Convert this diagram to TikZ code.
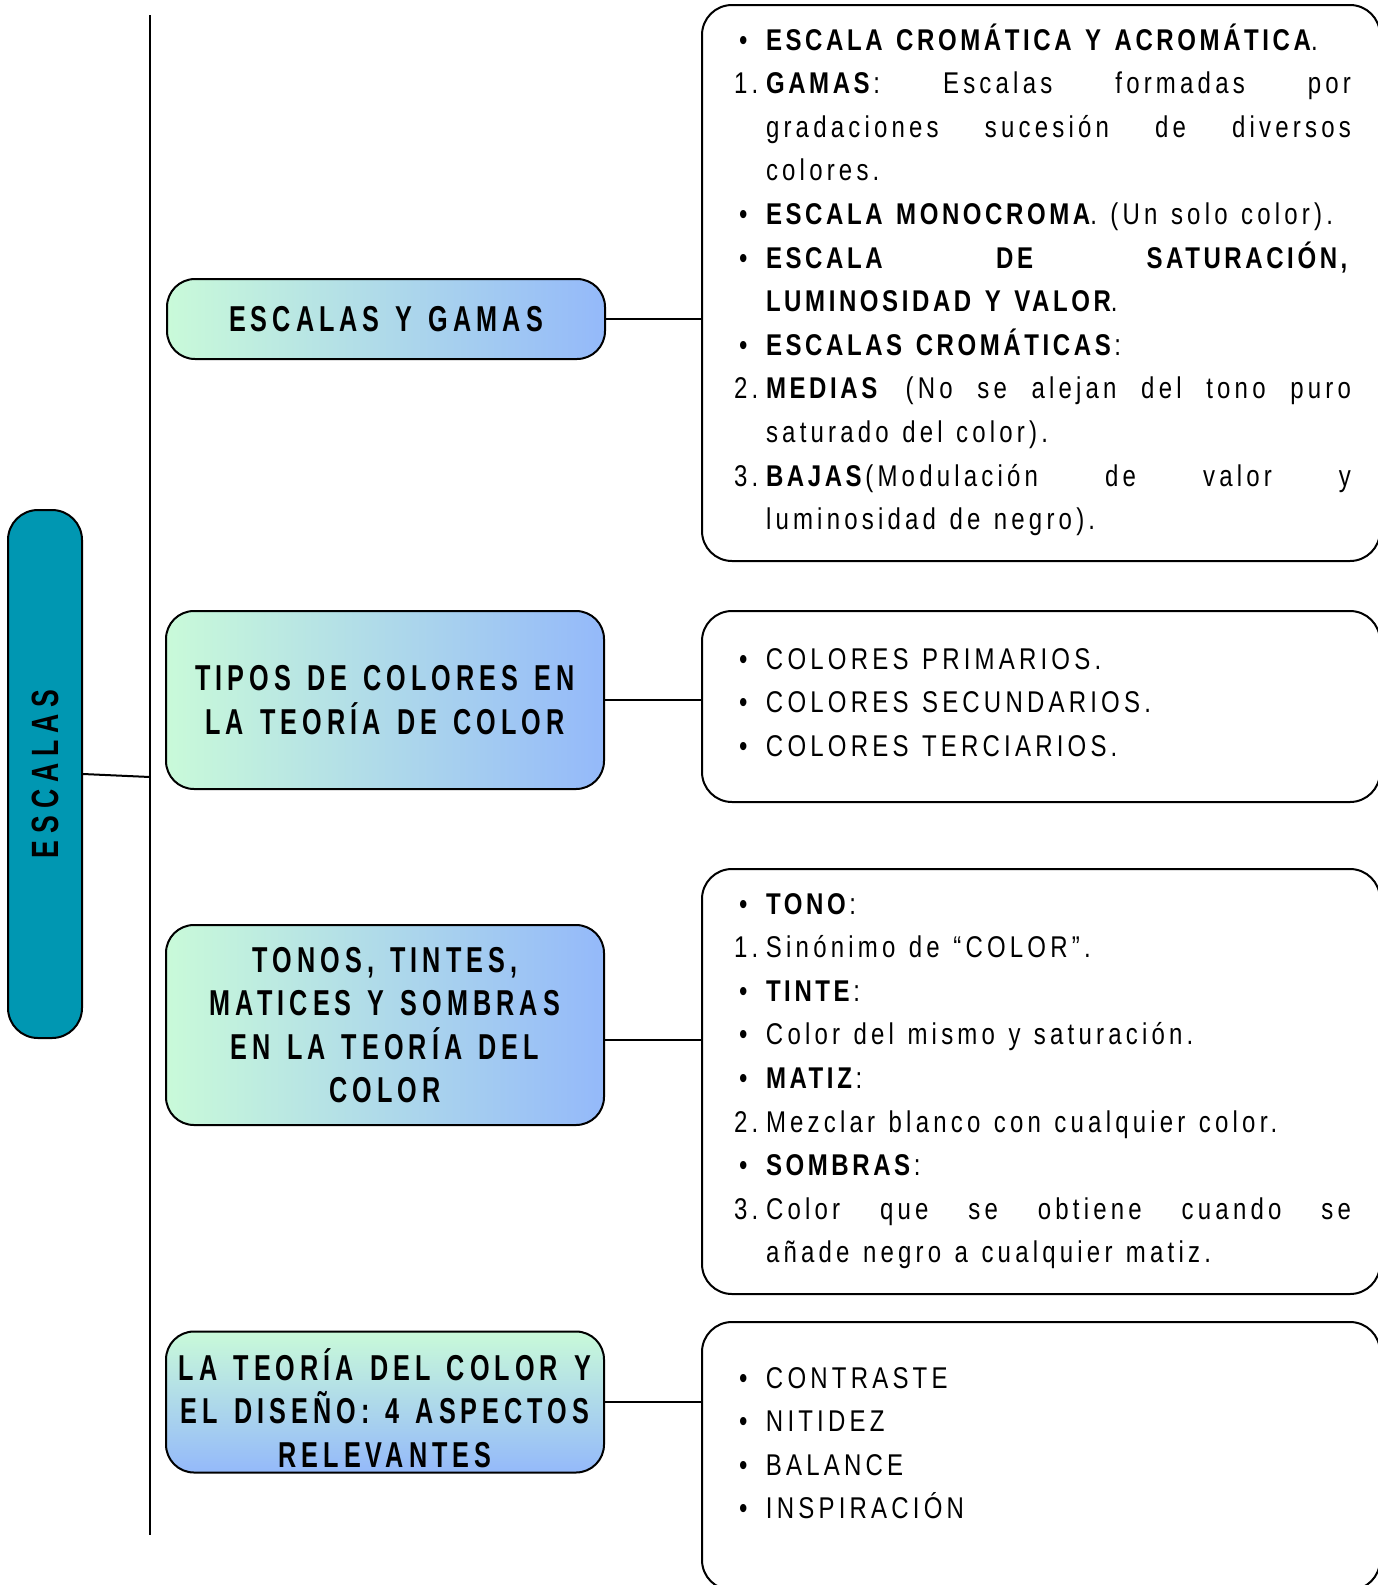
\documentclass[tikz,border=0pt]{standalone}
\usepackage{fontspec}
\setmainfont{Liberation Sans}[FakeStretch=0.8, LetterSpace=14, BoldFeatures={LetterSpace=12}]
\newfontfamily\headfont{Liberation Sans}[FakeStretch=0.7, LetterSpace=14]
\usetikzlibrary{positioning,calc}
\definecolor{gradL}{HTML}{C9FAD9}
\definecolor{gradR}{HTML}{94B9FA}
\definecolor{rootColor}{HTML}{0097B2}
\newcommand{\headsize}{\fontsize{36}{43.6}\selectfont}
\newcommand{\bodysize}{\fontsize{30}{43.6}\selectfont}
\newcommand{\bul}{\makebox[32pt][l]{\hspace{5pt}\textbullet}}
\newcommand{\itemnum}[1]{\makebox[32pt][l]{#1}}
\newcommand{\cont}{\hspace*{32pt}}
\newcommand{\jline}[1]{\makebox[585pt][s]{\spaceskip=0.45em plus 1fil\relax #1}}
\tikzset{head box/.style={draw=black, line width=2pt, rounded corners=28pt, left color=gradL, right color=gradR,
		align=center, inner sep=0pt, minimum width=438pt, font=\headfont\bfseries\headsize,
		execute at begin node={\spaceskip=0.45em\relax}}}
\tikzset{detail box/.style={draw=black, line width=2pt, rounded corners=30pt, minimum width=678pt}}

\begin{document}
\begin{tikzpicture}[x=1pt, y=-1pt, line width=2pt,
		detail text/.style={anchor=north west, inner sep=0pt, align=left, text width=640pt, font=\bodysize,
			execute at begin node={\spaceskip=0.45em\relax}},
		root/.style={draw=black, fill=rootColor, rotate=90, rounded corners=30pt, inner sep=0pt,
			font=\headfont\bfseries\fontsize{38}{40}\selectfont\addfontfeatures{LetterSpace=18}}]
	\useasboundingbox (0,0) rectangle (1377,1585);
	\node[root, minimum width=528pt, minimum height=74pt] at (45,774) (escalas) {ESCALAS};
	\coordinate (spine_top) at (150,15);
	\coordinate (spine_bot) at (150,1535);
	\coordinate (hub) at (150,777);
	
	\node[head box, minimum height=80pt] at (386,319) (gamas) {ESCALAS Y GAMAS};
	\node[head box, minimum height=178pt] at (385,700) (tipos) {TIPOS DE COLORES EN\\LA TEORÍA DE COLOR};
	\node[head box, minimum height=200pt] at (385,1025) (tonos) {TONOS, TINTES,\\MATICES Y SOMBRAS\\EN LA TEORÍA DEL\\COLOR};
	\node[head box, minimum height=141pt, top color=gradL, bottom color=gradR,
		label={[name=diseno_txt, align=center, font=\headfont\bfseries\headsize, yshift=-6pt,
			execute at begin node={\spaceskip=0.45em\relax}]center:{LA TEORÍA DEL COLOR Y\\EL DISEÑO: 4 ASPECTOS\\RELEVANTES}}] at (385,1402) (diseno) {};
	
	\node[detail box, minimum height=556pt] at (1041,283) (det_1) {};
	\node[detail box, minimum height=191pt] at (1041,706.5) (det_2) {};
	\node[detail box, minimum height=425pt] at (1041,1081.5) (det_3) {};
	\node[detail box, minimum height=268pt] at (1041,1456) (det_4) {};
	
	\node[detail text] at (733,18.5) (txt_1) {\strut\bul\textbf{ESCALA CROMÁTICA Y ACROMÁTICA}.\\
		\itemnum{1.}\jline{\textbf{GAMAS}: Escalas formadas por}\\
		\cont\jline{gradaciones sucesión de diversos}\\
		\cont colores.\\
		\bul\textbf{ESCALA MONOCROMA}. (Un solo color).\\
		\bul\jline{\textbf{ESCALA DE SATURACIÓN,}}\\
		\cont\textbf{LUMINOSIDAD Y VALOR}.\\
		\bul\textbf{ESCALAS CROMÁTICAS}:\\
		\itemnum{2.}\jline{\textbf{MEDIAS} (No se alejan del tono puro}\\
		\cont saturado del color).\\
		\itemnum{3.}\jline{\textbf{BAJAS}(Modulación de valor y}\\
		\cont luminosidad de negro).};
	\node[detail text] at (733,637.5) (txt_2) {\strut\bul COLORES PRIMARIOS.\\
		\bul COLORES SECUNDARIOS.\\
		\bul COLORES TERCIARIOS.};
	\node[detail text] at (733,882.5) (txt_3) {\strut\bul\textbf{TONO}:\\
		\itemnum{1.}Sinónimo de “COLOR”.\\
		\bul\textbf{TINTE}:\\
		\bul Color del mismo y saturación.\\
		\bul\textbf{MATIZ}:\\
		\itemnum{2.}Mezclar blanco con cualquier color.\\
		\bul\textbf{SOMBRAS}:\\
		\itemnum{3.}\jline{Color que se obtiene cuando se}\\
		\cont añade negro a cualquier matiz.};
	\node[detail text] at (733,1356.5) (txt_4) {\strut\bul CONTRASTE\\
		\bul NITIDEZ\\
		\bul BALANCE\\
		\bul INSPIRACIÓN};
	
	\path (spine_top) edge (spine_bot);
	\path (escalas.south) edge (hub);
	\path (gamas.east) edge (gamas.east -| det_1.west);
	\path (tipos.east) edge (tipos.east -| det_2.west);
	\path (tonos.-4) edge (tonos.-4 -| det_3.west);
	\path (diseno.east) edge (diseno.east -| det_4.west);
\end{tikzpicture}
\end{document}
